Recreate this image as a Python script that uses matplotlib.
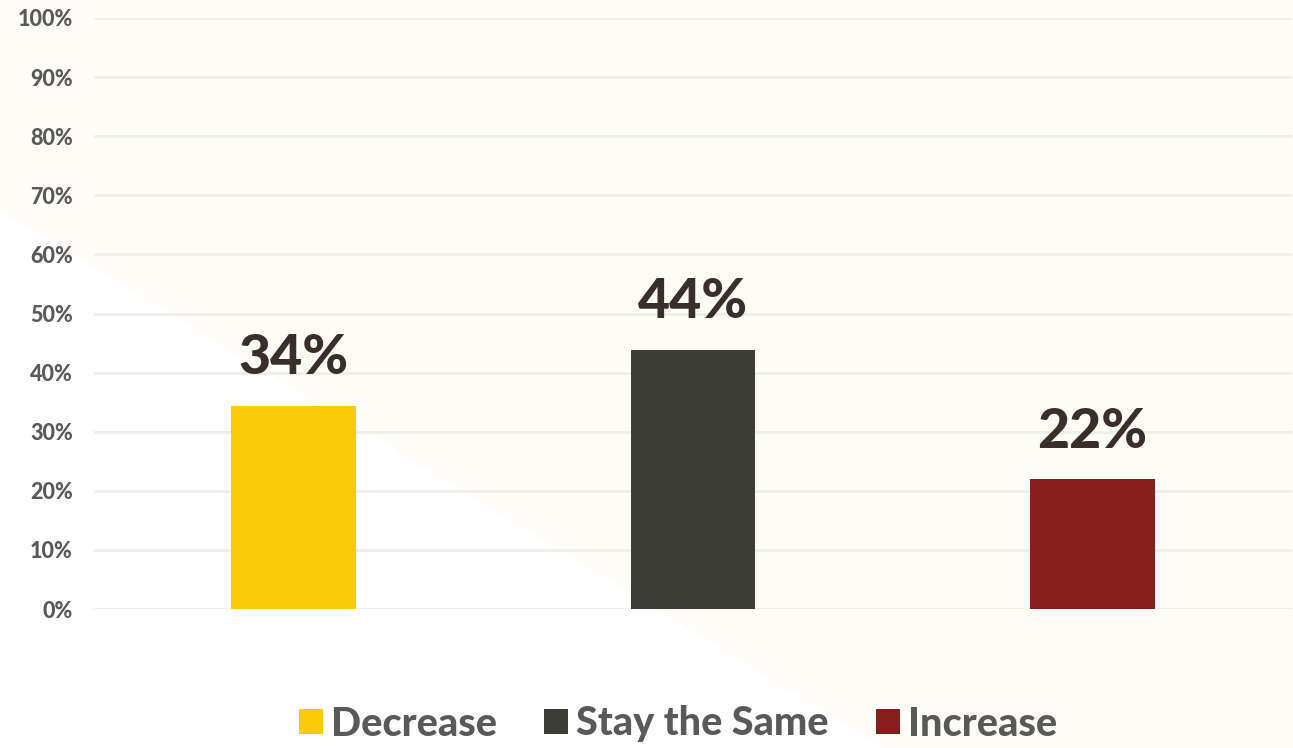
import matplotlib
matplotlib.use("Agg")
import matplotlib.pyplot as plt
from matplotlib.patches import Polygon, Patch
from matplotlib.ticker import FuncFormatter

categories = ["Decrease", "Stay the Same", "Increase"]
values = [34.4, 43.9, 22.0]
value_labels = ["34%", "44%", "22%"]
colors = ["#FCCA0B", "#3C3D35", "#861E1B"]
yticks = [0, 10, 20, 30, 40, 50, 60, 70, 80, 90, 100]

W, H = 1293, 748
fig = plt.figure(figsize=(W / 100, H / 100), dpi=100)
fig.patch.set_facecolor("#FDFCF6")
tri = Polygon([(0, 1 - 210 / H), (0, 0), (885 / W, 0)], closed=True,
              transform=fig.transFigure, facecolor="white", edgecolor="none", zorder=-10)
fig.patches.append(tri)

ax = fig.add_axes([93.7 / W, 1 - 609 / H, 1198.5 / W, (609 - 18) / H])
ax.set_facecolor("none")
x = list(range(len(categories)))
ax.bar(x, values, width=0.3125, color=colors, zorder=3)
ax.set_xlim(-0.5, 2.5)
ax.set_ylim(0, 100)
ax.set_yticks(yticks)
ax.yaxis.set_major_formatter(FuncFormatter(lambda v, p: f"{int(v)}%"))
ax.set_xticks([])
for y in yticks:
    ax.axhline(y, color="#EEEEEA", lw=2, zorder=1)
for s in ax.spines.values():
    s.set_visible(False)
ax.tick_params(axis="y", length=0, pad=15, labelsize=15.5, labelcolor="#595959")
for lbl in ax.get_yticklabels():
    lbl.set_fontfamily("Lato")
    lbl.set_fontweight("black")

for xi, v, t in zip(x, values, value_labels):
    ax.annotate(t, (xi, v), xytext=(0, 16), textcoords="offset points",
                ha="center", va="bottom", fontsize=40, fontweight="black",
                family="Lato", color="#3A2E2A")

handles = [Patch(facecolor=c, edgecolor="none") for c in colors]
leg = fig.legend(handles, categories, loc="center", bbox_to_anchor=(678 / W, 1 - 724 / H),
                 ncol=3, frameon=False, handlelength=0.6, handleheight=0.6,
                 handletextpad=0.2, columnspacing=1.2,
                 prop={"family": "Lato", "weight": "black", "size": 28.5})
for t in leg.get_texts():
    t.set_color("#595959")

fig.savefig("out.png", dpi=100)
